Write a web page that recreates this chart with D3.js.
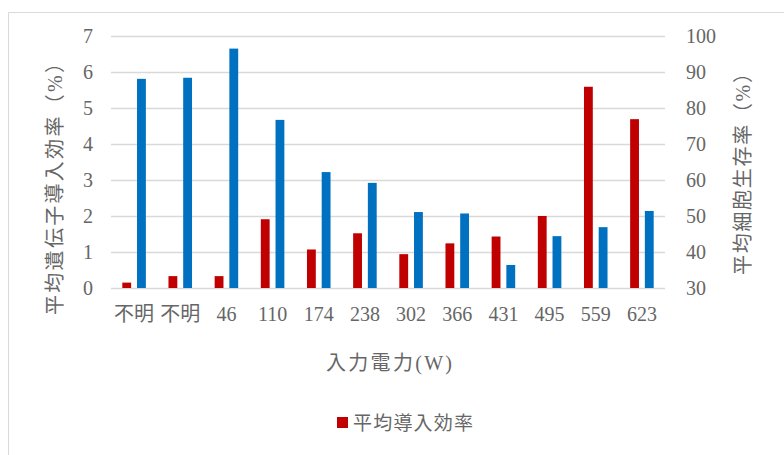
<!DOCTYPE html>
<html>
<head>
<meta charset="utf-8">
<script src="https://cdn.jsdelivr.net/npm/d3@7"></script>
<style>
  html, body { margin: 0; padding: 0; background: #fff; }
  svg text { font-family: "Liberation Serif", "Noto Sans CJK JP", serif; fill: #666; }
</style>
</head>
<body>
<svg id="chart" width="784" height="455"></svg>
<script>
// Input power categories (W)
const categories = ["不明", "不明", "46", "110", "174", "238", "302", "366", "431", "495", "559", "623"];
// Mean gene transfection efficiency (%), left axis
const transfectionEff = [0.15, 0.33, 0.33, 1.91, 1.07, 1.52, 0.94, 1.24, 1.43, 2.0, 5.59, 4.69];
// Mean cell viability (%), right axis
const cellViability = [88.1, 88.4, 96.5, 76.7, 62.2, 59.2, 51.1, 50.7, 36.4, 44.4, 46.9, 51.4];
const leftTicks = [0, 1, 2, 3, 4, 5, 6, 7];
const rightTicks = [30, 40, 50, 60, 70, 80, 90, 100];

const RED = "#C00000", BLUE = "#0070C0", GRID = "#d9d9d9";
const svg = d3.select("#chart");

// chart frame
svg.append("path")
  .attr("d", "M8.5,455 L8.5,12.5 L784,12.5")
  .attr("fill", "none").attr("stroke", "#d9d9d9").attr("stroke-width", 1);

const plot = { left: 111, right: 665, top: 36, bottom: 288 };

const x0 = d3.scaleBand().domain(d3.range(categories.length))
  .range([plot.left, plot.right]).paddingInner(0.49).paddingOuter(0.245);
const x1 = d3.scaleBand().domain(["eff", "via"]).range([0, x0.bandwidth()]).paddingInner(0.4);
const yL = d3.scaleLinear().domain([0, 7]).range([plot.bottom, plot.top]);
const yR = d3.scaleLinear().domain([30, 100]).range([plot.bottom, plot.top]);

// horizontal gridlines
svg.append("g").selectAll("line").data(leftTicks).join("line")
  .attr("x1", plot.left).attr("x2", plot.right)
  .attr("y1", d => Math.round(yL(d)) + 0.5).attr("y2", d => Math.round(yL(d)) + 0.5)
  .attr("stroke", GRID).attr("stroke-width", 1.3);

// bars
const groups = svg.append("g").selectAll("g").data(categories).join("g")
  .attr("transform", (d, i) => `translate(${x0(i)},0)`);
groups.append("rect")
  .attr("x", x1("eff")).attr("width", x1.bandwidth())
  .attr("y", (d, i) => yL(transfectionEff[i]))
  .attr("height", (d, i) => yL(0) - yL(transfectionEff[i]))
  .attr("fill", RED);
groups.append("rect")
  .attr("x", x1("via")).attr("width", x1.bandwidth())
  .attr("y", (d, i) => yR(cellViability[i]))
  .attr("height", (d, i) => yR(30) - yR(cellViability[i]))
  .attr("fill", BLUE);

// axes
const styleAxis = g => {
  g.select(".domain").remove();
  g.selectAll("line").remove();
  g.selectAll("text").style("font-size", "20px").attr("fill", "#666");
};
svg.append("g").attr("transform", `translate(${plot.left},0)`)
  .call(d3.axisLeft(yL).tickValues(leftTicks).tickSize(0).tickPadding(18).tickFormat(d3.format("d")))
  .call(styleAxis);
svg.append("g").attr("transform", `translate(${plot.right},0)`)
  .call(d3.axisRight(yR).tickValues(rightTicks).tickSize(0).tickPadding(21).tickFormat(d3.format("d")))
  .call(styleAxis);
svg.append("g").attr("transform", `translate(0,${plot.bottom})`)
  .call(d3.axisBottom(x0).tickSize(0).tickPadding(19).tickFormat(i => categories[i]))
  .call(styleAxis);

// axis titles
svg.append("text")
  .attr("transform", "translate(55,184) rotate(-90)")
  .attr("text-anchor", "middle").attr("dominant-baseline", "central")
  .attr("textLength", 262).attr("lengthAdjust", "spacing")
  .style("font-size", "20px").text("平均遺伝子導入効率（%）");
svg.append("text")
  .attr("transform", "translate(743,169) rotate(-90)")
  .attr("text-anchor", "middle").attr("dominant-baseline", "central")
  .attr("textLength", 212).attr("lengthAdjust", "spacing")
  .style("font-size", "20px").text("平均細胞生存率（%）");
svg.append("text")
  .attr("x", 389).attr("y", 363)
  .attr("text-anchor", "middle").attr("dominant-baseline", "central")
  .attr("textLength", 126).attr("lengthAdjust", "spacing")
  .style("font-size", "20px").text("入力電力(W)");

// legend
const legend = svg.append("g").attr("transform", "translate(337,417)");
legend.append("rect").attr("width", 11).attr("height", 11).attr("fill", RED);
legend.append("text").attr("x", 16).attr("y", 6)
  .attr("dominant-baseline", "central")
  .attr("textLength", 120).attr("lengthAdjust", "spacing")
  .style("font-size", "19px").text("平均導入効率");
</script>
</body>
</html>
